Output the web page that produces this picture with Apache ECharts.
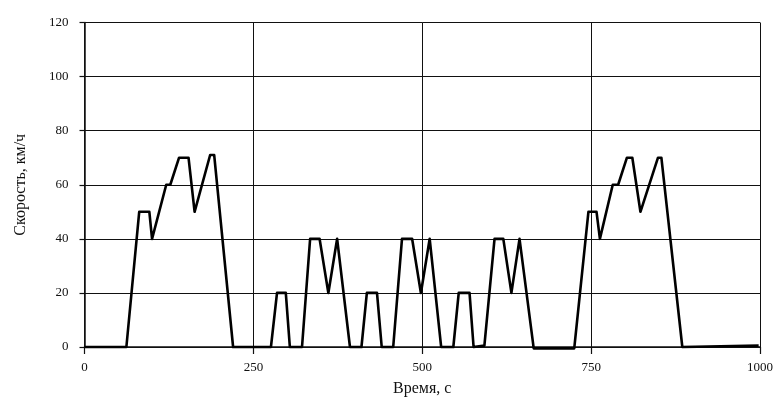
<!DOCTYPE html>
<html><head><meta charset="utf-8">
<script src="https://cdn.jsdelivr.net/npm/echarts@6/dist/echarts.min.js"></script>
<style>html,body{margin:0;padding:0;background:#fff}#c{width:777px;height:403px}</style>
</head><body><div id="c"></div>
<script>
const timeS = [0, 62, 81, 96, 100, 121, 127, 140, 154, 163, 186, 192, 220, 276, 285, 298, 304, 322, 334, 348, 361, 374, 393, 410, 418, 433, 440, 457, 470, 485, 498, 511, 528, 546, 554, 570, 576, 592, 607, 620, 632, 644, 665, 725, 746, 758, 763, 782, 790, 803, 811, 823, 849, 854, 885, 998];
const speedKmh = [0, 0, 50, 50, 40, 60, 60, 70, 70, 50, 71, 71, 0, 0, 20, 20, 0, 0, 40, 40, 20, 40, 0, 0, 20, 20, 0, 0, 40, 40, 20, 40, 0, 0, 20, 20, 0, 0.5, 40, 40, 20, 40, -0.5, -0.5, 50, 50, 40, 60, 60, 70, 70, 50, 70, 70, 0, 0.5];
const xTicks = [0, 250, 500, 750, 1000];
const yTicks = [0, 20, 40, 60, 80, 100, 120];

const chart = echarts.init(document.getElementById('c'), null, {renderer: 'canvas'});
const font = '"Liberation Serif", "DejaVu Serif", serif';
chart.setOption({
  animation: false,
  backgroundColor: '#fff',
  grid: {left: 84.5, right: 17, top: 22.5, bottom: 56, containLabel: false},
  xAxis: {
    type: 'value', min: xTicks[0], max: xTicks[xTicks.length - 1], interval: 250,
    name: 'Время, с', nameLocation: 'middle', nameGap: 34,
    nameTextStyle: {fontFamily: font, fontSize: 16, color: '#111'},
    axisLine: {show: true, lineStyle: {color: '#111', width: 1.5}},
    axisTick: {show: true, inside: false, length: 7, lineStyle: {color: '#111', width: 1.2}},
    axisLabel: {fontFamily: font, fontSize: 13, color: '#111', margin: 14, formatter: v => String(v)},
    splitLine: {show: true, lineStyle: {color: '#111', width: 1}}
  },
  yAxis: {
    type: 'value', min: yTicks[0], max: yTicks[yTicks.length - 1], interval: 20,
    name: 'Скорость, км/ч', nameLocation: 'middle', nameGap: 56, nameRotate: 90,
    nameTextStyle: {fontFamily: font, fontSize: 16, color: '#111'},
    axisLine: {show: true, lineStyle: {color: '#111', width: 1.5}},
    axisTick: {show: true, inside: false, length: 5, lineStyle: {color: '#111', width: 1.2}},
    axisLabel: {fontFamily: font, fontSize: 13, color: '#111', margin: 16, formatter: v => String(v)},
    splitLine: {show: true, lineStyle: {color: '#111', width: 1}}
  },
  series: [{
    type: 'line',
    data: timeS.map((t, i) => [t, speedKmh[i]]),
    showSymbol: false,
    lineStyle: {color: '#000', width: 2.6, join: 'round'},
    clip: false
  }]
});
</script></body></html>
